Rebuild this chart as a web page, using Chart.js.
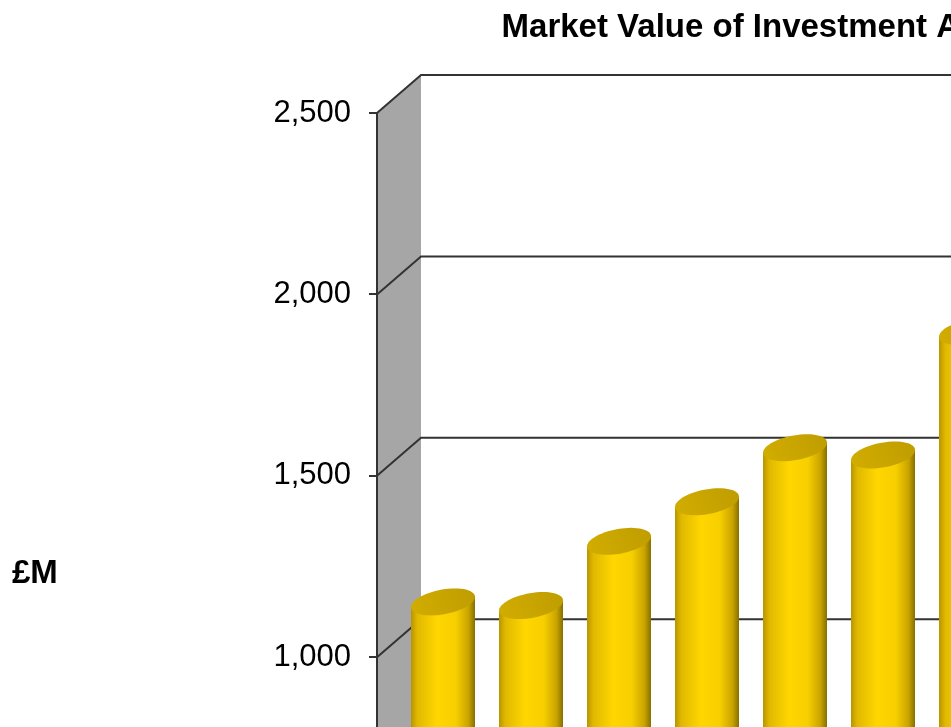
<!DOCTYPE html>
<html>
<head>
<meta charset="utf-8">
<script src="https://cdn.jsdelivr.net/npm/chart.js@4/dist/chart.umd.min.js"></script>
<style>
  html, body { margin: 0; padding: 0; overflow: hidden; background: #fff; }
  #wrap { position: absolute; left: 0; top: 0; width: 1300px; height: 1100px; }
</style>
</head>
<body>
<div id="wrap"><canvas id="chart"></canvas></div>
<script>
const chartTitle = 'Market Value of Investment Assets';
const unitLabel = '£M';
const years = ['2001', '2002', '2003', '2004', '2005', '2006', '2007', '2008', '2009'];
const marketValues = [1100, 1090, 1267, 1376, 1525, 1505, 1845, 2010, 2150];
const yTicks = [0, 500, 1000, 1500, 2000, 2500];

const FONT = "'Liberation Sans', Arial, sans-serif";
// depth of the 3d box, bars stand half way in
const DEPTH_X = 44, DEPTH_Y = -38;

function cylinder(ctx, cx, top, bottom, R) {
    let a = 12, b = 13.5;
    let r = Math.sqrt(R * R - a * a);
    let t0 = Math.atan2(a, r);
    let s = b * a / R;
    let pt = (t, c) => [cx + r * Math.cos(t) + a * Math.sin(t), c - b * Math.sin(t)];

    let body = ctx.createLinearGradient(cx - R, 0, cx + R, 0);
    body.addColorStop(0, '#b89500');
    body.addColorStop(0.1, '#e0b900');
    body.addColorStop(0.4, '#ffd600');
    body.addColorStop(0.7, '#f7cf00');
    body.addColorStop(0.9, '#c9a300');
    body.addColorStop(1, '#857000');

    ctx.beginPath();
    ctx.moveTo(cx - R, top + s);
    ctx.lineTo(cx + R, top - s);
    ctx.lineTo(cx + R, bottom - s);
    for (let i = 0; i <= 40; i++) {
        let p = pt(t0 - Math.PI * i / 40, bottom);
        ctx.lineTo(p[0], p[1]);
    }
    ctx.closePath();
    ctx.fillStyle = body;
    ctx.fill();

    let cap = ctx.createLinearGradient(cx - R, top + b, cx + R, top - b);
    cap.addColorStop(0, '#d2ad00');
    cap.addColorStop(1, '#bf9d00');
    ctx.beginPath();
    for (let i = 0; i <= 60; i++) {
        let p = pt(Math.PI * 2 * i / 60, top);
        if (i == 0) ctx.moveTo(p[0], p[1]);
        else ctx.lineTo(p[0], p[1]);
    }
    ctx.closePath();
    ctx.fillStyle = cap;
    ctx.fill();
}

const box3d = {
    id: 'box3d',
    beforeDraw(chart) {
        let ctx = chart.ctx;
        let ca = chart.chartArea;
        let ys = chart.scales.y;

        ctx.save();
        // side wall
        ctx.fillStyle = '#a6a6a6';
        ctx.beginPath();
        ctx.moveTo(ca.left, ca.top);
        ctx.lineTo(ca.left + DEPTH_X, ca.top + DEPTH_Y);
        ctx.lineTo(ca.left + DEPTH_X, ca.bottom + DEPTH_Y);
        ctx.lineTo(ca.left, ca.bottom);
        ctx.closePath();
        ctx.fill();

        // floor
        ctx.fillStyle = '#bfbfbf';
        ctx.beginPath();
        ctx.moveTo(ca.left, ca.bottom);
        ctx.lineTo(ca.right, ca.bottom);
        ctx.lineTo(ca.right + DEPTH_X, ca.bottom + DEPTH_Y);
        ctx.lineTo(ca.left + DEPTH_X, ca.bottom + DEPTH_Y);
        ctx.closePath();
        ctx.fill();

        // grid lines along side wall and back wall
        ctx.strokeStyle = '#333';
        ctx.lineWidth = 2;
        for (let t of ys.ticks) {
            let y = ys.getPixelForValue(t.value);
            ctx.beginPath();
            ctx.moveTo(ca.left, y);
            ctx.lineTo(ca.left + DEPTH_X, y + DEPTH_Y);
            ctx.lineTo(ca.right + DEPTH_X, y + DEPTH_Y);
            ctx.stroke();
        }
        ctx.restore();
    },
    afterDatasetsDraw(chart) {
        let ctx = chart.ctx;
        let meta = chart.getDatasetMeta(0);
        ctx.save();
        for (let el of meta.data) {
            let cx = el.x + DEPTH_X / 2;
            cylinder(ctx, cx, el.y + DEPTH_Y / 2, el.base + DEPTH_Y / 2, el.width / 2);
        }
        ctx.restore();
    },
    afterDraw(chart) {
        let ctx = chart.ctx;
        let ca = chart.chartArea;
        ctx.save();
        ctx.font = 'bold 33px ' + FONT;
        ctx.fillStyle = '#000';
        ctx.textAlign = 'left';
        ctx.textBaseline = 'middle';
        ctx.fillText(unitLabel, 12, (ca.top + ca.bottom) / 2 + 7);
        ctx.restore();
    }
};

new Chart(document.getElementById('chart'), {
    type: 'bar',
    data: {
        labels: years,
        datasets: [{
            data: marketValues,
            backgroundColor: 'rgba(0,0,0,0)',
            borderWidth: 0,
            categoryPercentage: 1,
            barPercentage: 64 / 88
        }]
    },
    options: {
        responsive: true,
        maintainAspectRatio: false,
        animation: false,
        layout: { padding: { left: 0, right: 131, top: 0, bottom: 0 } },
        plugins: {
            legend: { display: false },
            tooltip: { enabled: false },
            title: {
                display: true,
                text: chartTitle,
                fullSize: false,
                color: '#000',
                font: { family: FONT, size: 33, weight: 'bold' },
                padding: { top: 8, bottom: 65.4 }
            }
        },
        scales: {
            x: {
                grid: { display: false },
                border: { display: false },
                ticks: { color: '#000', font: { family: FONT, size: 31 } },
                afterFit(scale) { scale.height = 80; }
            },
            y: {
                min: 0,
                max: 2500,
                afterBuildTicks(scale) { scale.ticks = yTicks.map(v => ({ value: v })); },
                afterFit(scale) { scale.width = 377; },
                grid: { drawOnChartArea: false, drawTicks: true, tickLength: 8, color: '#333', lineWidth: 2 },
                border: { display: true, color: '#333', width: 2 },
                ticks: {
                    color: '#000',
                    padding: 18,
                    font: { family: FONT, size: 31 },
                    callback: v => v.toLocaleString('en-US')
                }
            }
        }
    },
    plugins: [box3d]
});
</script>
</body>
</html>
